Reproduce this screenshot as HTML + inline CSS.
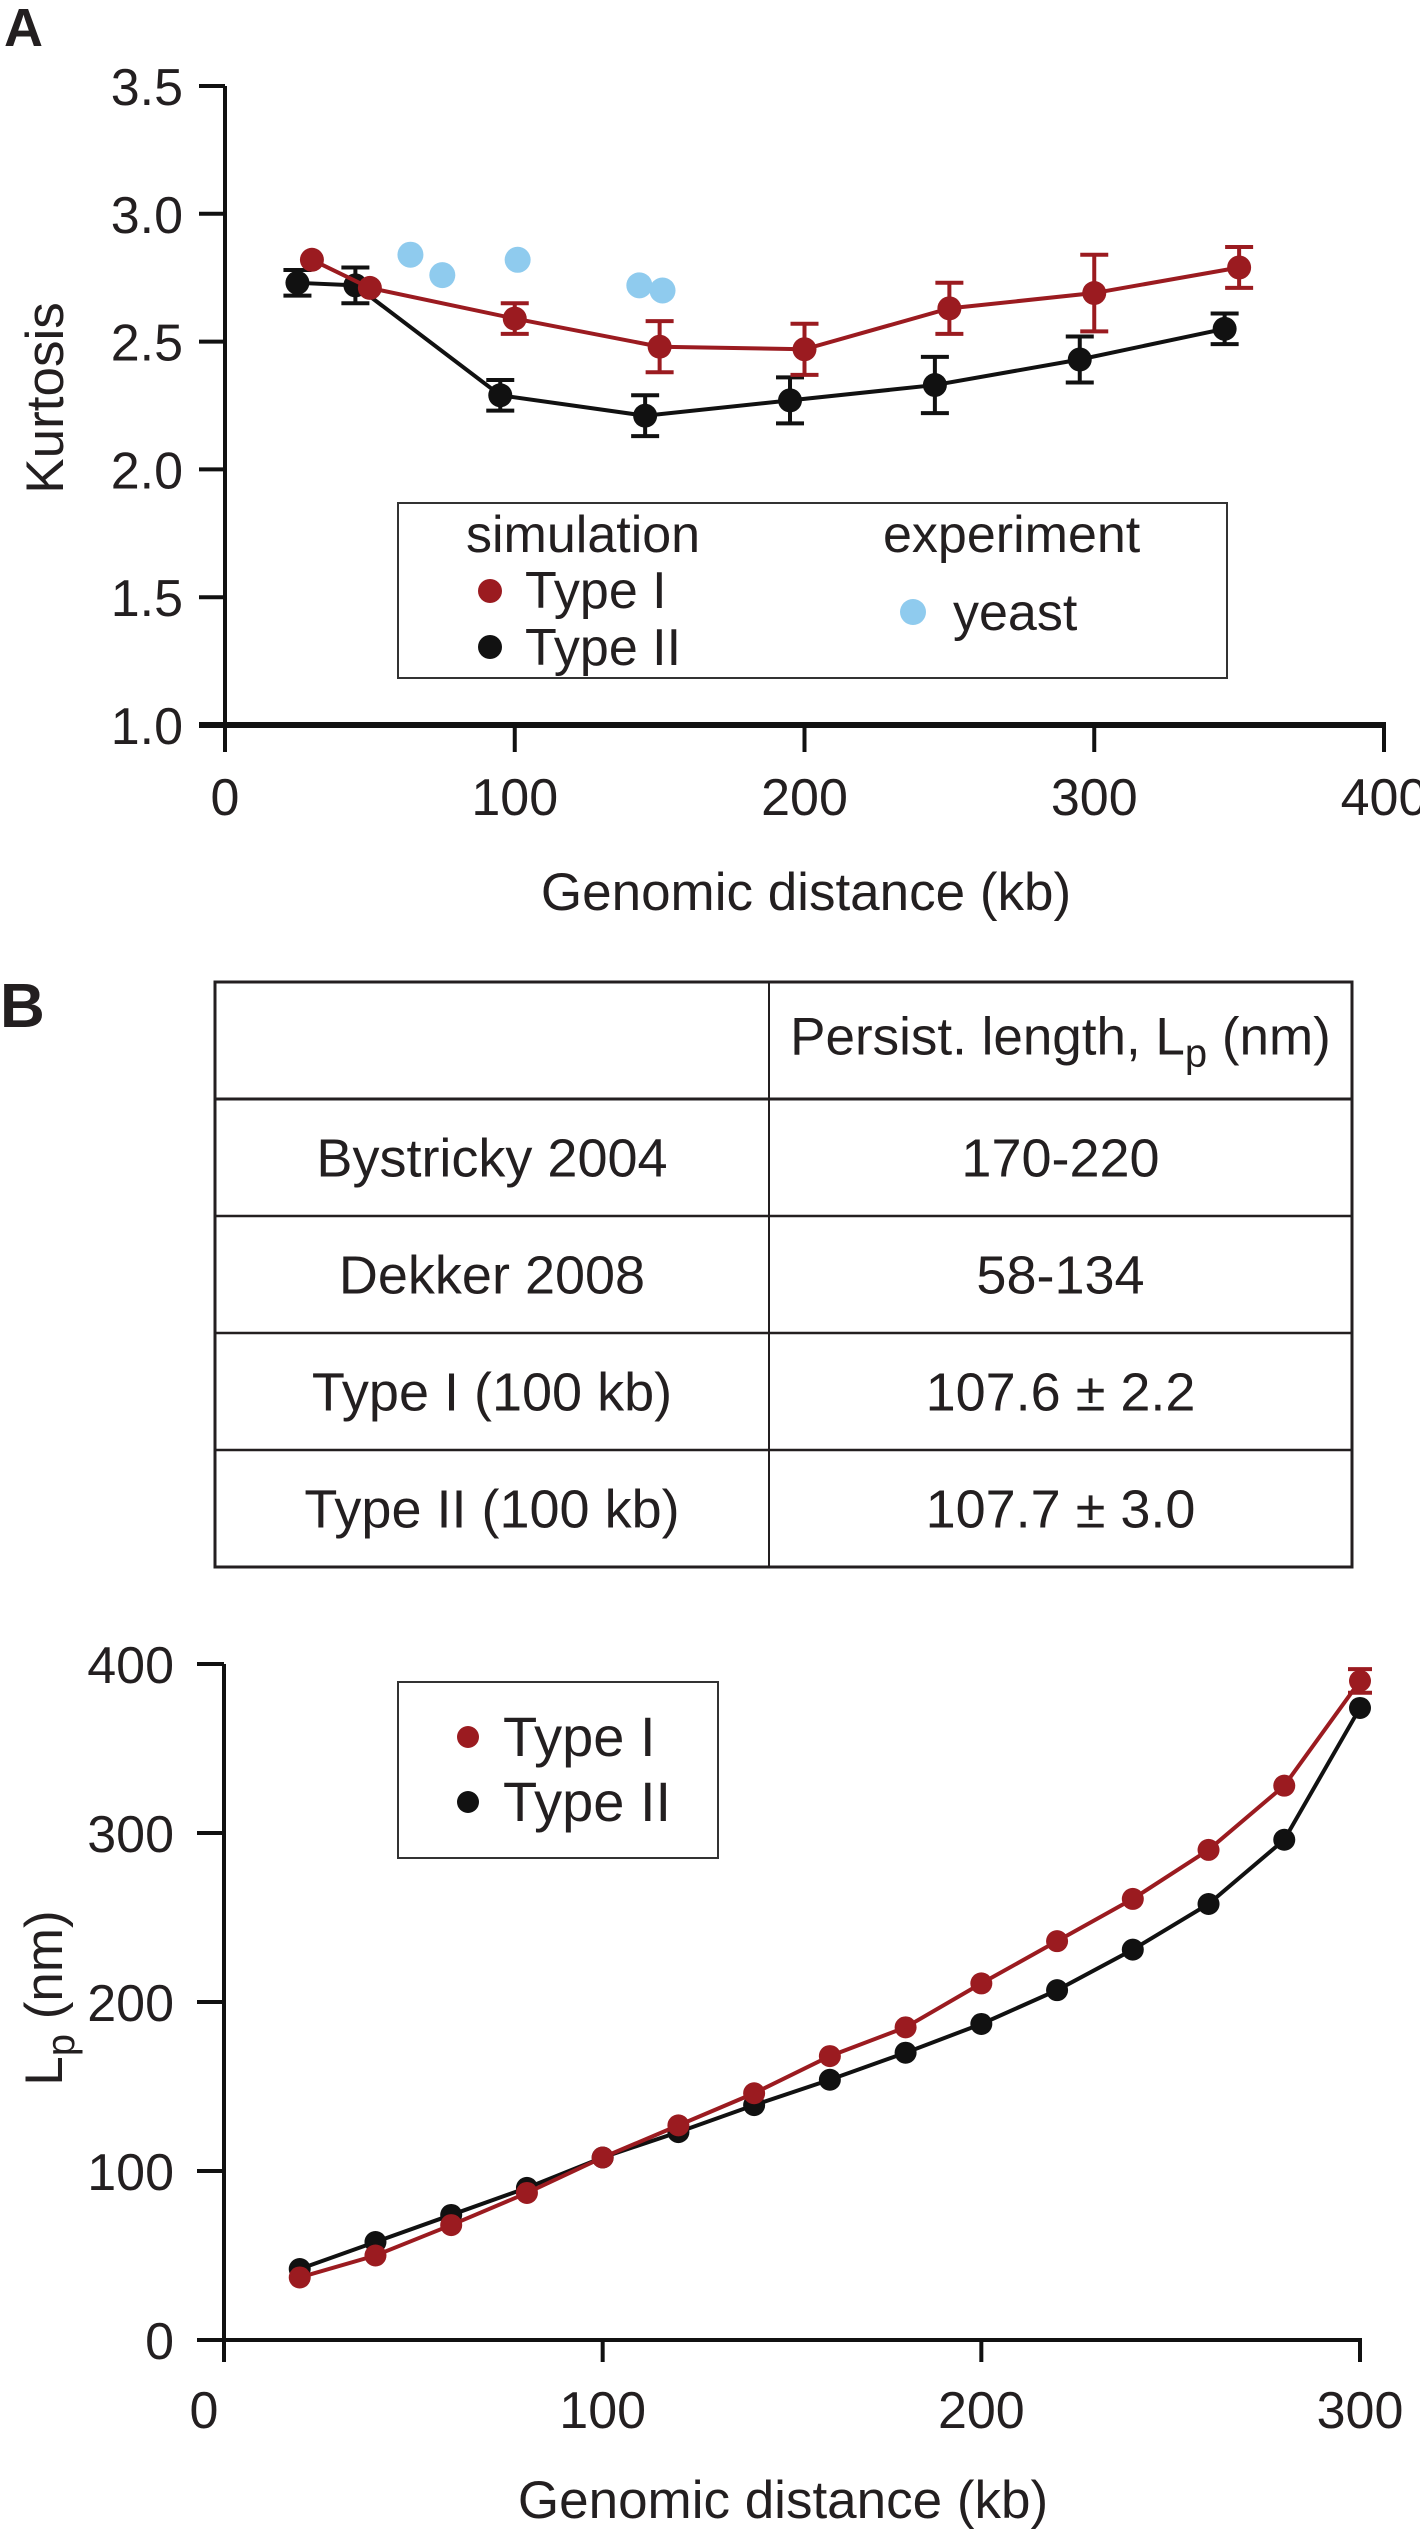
<!DOCTYPE html>
<html><head><meta charset="utf-8"><style>
html,body{margin:0;padding:0;background:#fff;}
svg{display:block;font-family:"Liberation Sans",Arial,sans-serif;}
</style></head><body>
<svg id="fig" width="1420" height="2530" viewBox="0 0 1420 2530" xmlns="http://www.w3.org/2000/svg">
<text x="4" y="46" font-size="54" font-weight="bold" fill="#231f20">A</text>
<g id="chartA"></g>
<text x="0" y="1027" font-size="62" font-weight="bold" fill="#231f20">B</text>
<g id="tbl"></g>
<g id="chartB"></g>
</svg>
<script>
// ---- Panel A data ----
const aXTicks = [0, 100, 200, 300, 400];
const aYTicks = [1.0, 1.5, 2.0, 2.5, 3.0, 3.5];
const aYTickLabels = ["1.0", "1.5", "2.0", "2.5", "3.0", "3.5"];
const type1X = [30, 50, 100, 150, 200, 250, 300, 350];
const type1Y = [2.82, 2.71, 2.59, 2.48, 2.47, 2.63, 2.69, 2.79];
const type1Err = [0, 0, 0.06, 0.10, 0.10, 0.10, 0.15, 0.08];
const type2X = [25, 45, 95, 145, 195, 245, 295, 345];
const type2Y = [2.73, 2.72, 2.29, 2.21, 2.27, 2.33, 2.43, 2.55];
const type2Err = [0.05, 0.07, 0.06, 0.08, 0.09, 0.11, 0.09, 0.06];
const yeastX = [64, 75, 101, 143, 151];
const yeastY = [2.84, 2.76, 2.82, 2.72, 2.70];
// ---- Panel B chart data ----
const bXTicks = [0, 100, 200, 300];
const bYTicks = [0, 100, 200, 300, 400];
const lpX = [20, 40, 60, 80, 100, 120, 140, 160, 180, 200, 220, 240, 260, 280, 300];
const lpType1 = [37, 50, 68, 87, 108, 127, 146, 168, 185, 211, 236, 261, 290, 328, 390];
const lpType1Err = [0, 0, 0, 0, 0, 0, 0, 0, 0, 0, 0, 0, 0, 0, 7];
const lpType2 = [42, 58, 74, 90, 108, 123, 139, 154, 170, 187, 207, 231, 258, 296, 374];
// ---- Table data ----
const tblRows = ["Bystricky 2004", "Dekker 2008", "Type I (100 kb)", "Type II (100 kb)"];
const tblVals = ["170-220", "58-134", "107.6 \u00b1 2.2", "107.7 \u00b1 3.0"];

const NS = "http://www.w3.org/2000/svg";
const RED = "#9b1b20", BLK = "#111111", BLUE = "#8fcbee";
function mk(parent, tag, attrs, txt) {
  const e = document.createElementNS(NS, tag);
  for (const k in attrs) e.setAttribute(k, attrs[k]);
  if (txt !== undefined) e.textContent = txt;
  parent.appendChild(e);
  return e;
}

// ===== Panel A =====
(function () {
  const g = document.getElementById("chartA");
  const xS = v => 225 + (v - 0) * (1384 - 225) / 400;
  const yS = v => 725 - (v - 1.0) * (725 - 86) / 2.5;
  let e = mk(g, "line", {x1: 225, y1: 86, x2: 225, y2: 752, stroke: "#111", "stroke-width": 4});
  
  
  e = mk(g, "line", {x1: 199, y1: 725, x2: 1386, y2: 725, stroke: "#111", "stroke-width": 6});
  
  
  aYTicks.forEach((v, i) => {
    const t = mk(g, "line", {x1: 199, y1: yS(v), x2: 225, y2: yS(v), stroke: "#111", "stroke-width": 4});
    
    
    const l = mk(g, "text", {x: 183, y: yS(v) + 19, "font-size": 52, "text-anchor": "end", fill: "#231f20"}, aYTickLabels[i]);
    
    
  });
  aXTicks.forEach(v => {
    const t = mk(g, "line", {x1: xS(v), y1: 725, x2: xS(v), y2: 752, stroke: "#111", "stroke-width": 4});
    
    
    const l = mk(g, "text", {x: xS(v), y: 815, "font-size": 52, "text-anchor": "middle", fill: "#231f20"}, String(v));
    
    
  });
  e = mk(g, "text", {x: 806, y: 910, "font-size": 53, "text-anchor": "middle", fill: "#231f20"}, "Genomic distance (kb)");
  
  
  e = mk(g, "text", {x: 0, y: 0, "font-size": 53, "text-anchor": "middle", fill: "#231f20", transform: "translate(63,398) rotate(-90)"}, "Kurtosis");
  
  

  function series(xs, ys, errs, col, name) {
    const sg = mk(g, "g", {});
    
    
    const pts = xs.map((x, i) => xS(x) + "," + yS(ys[i])).join(" ");
    mk(sg, "polyline", {points: pts, fill: "none", stroke: col, "stroke-width": 4});
    xs.forEach((x, i) => {
      if (errs[i] > 0) {
        const cx = xS(x), y1 = yS(ys[i] + errs[i]), y2 = yS(ys[i] - errs[i]);
        const eb = mk(sg, "path", {d: `M${cx},${y1}V${y2}M${cx - 14},${y1}H${cx + 14}M${cx - 14},${y2}H${cx + 14}`, stroke: col, "stroke-width": 4, fill: "none"});
        
        
      }
      const c = mk(sg, "ellipse", {cx: xS(x), cy: yS(ys[i]), rx: 12, ry: 12, fill: col});
      
      
    });
  }
  series(type2X, type2Y, type2Err, BLK, "type-ii-series");
  series(type1X, type1Y, type1Err, RED, "type-i-series");
  yeastX.forEach((x, i) => {
    const c = mk(g, "ellipse", {cx: xS(x), cy: yS(yeastY[i]), rx: 13, ry: 13, fill: BLUE});
    
    
  });

  const lg = mk(g, "g", {});
  
  
  mk(lg, "rect", {x: 398, y: 503, width: 829, height: 175, fill: "#fff", stroke: "#333", "stroke-width": 2});
  mk(lg, "text", {x: 466, y: 552, "font-size": 52, fill: "#231f20"}, "simulation");
  mk(lg, "text", {x: 883, y: 552, "font-size": 52, fill: "#231f20"}, "experiment");
  let le = mk(lg, "circle", {cx: 490, cy: 591, r: 12, fill: RED});
  
  
  mk(lg, "text", {x: 525, y: 608, "font-size": 52, fill: "#231f20"}, "Type I");
  le = mk(lg, "circle", {cx: 490, cy: 647, r: 12, fill: BLK});
  
  
  mk(lg, "text", {x: 525, y: 665, "font-size": 52, fill: "#231f20"}, "Type II");
  le = mk(lg, "circle", {cx: 913, cy: 612, r: 13, fill: BLUE});
  
  
  mk(lg, "text", {x: 953, y: 630, "font-size": 52, fill: "#231f20"}, "yeast");
})();

// ===== Table =====
(function () {
  const g = document.getElementById("tbl");
  const L = 215, M = 769, R = 1352, T = 982, RH = 117;
  const nRows = tblRows.length + 1;
  mk(g, "rect", {x: L, y: T, width: R - L, height: RH * nRows, fill: "none", stroke: "#231f20", "stroke-width": 3});
  mk(g, "line", {x1: M, y1: T, x2: M, y2: T + RH * nRows, stroke: "#231f20", "stroke-width": 2});
  for (let i = 1; i < nRows; i++) {
    mk(g, "line", {x1: L, y1: T + RH * i, x2: R, y2: T + RH * i, stroke: "#231f20", "stroke-width": i === 1 ? 3 : 2.5});
  }
  const h = mk(g, "text", {x: (M + R) / 2, y: T + RH / 2 + 14, "font-size": 53, "text-anchor": "middle", fill: "#231f20"});
  
  
  mk(h, "tspan", {}, "Persist. length, L");
  mk(h, "tspan", {"font-size": 40, dy: 12}, "p");
  mk(h, "tspan", {dy: -12}, " (nm)");
  tblRows.forEach((r, i) => {
    const cy = T + RH * (i + 1) + RH / 2 + 19;
    const a = mk(g, "text", {x: (L + M) / 2, y: cy, "font-size": 54, "text-anchor": "middle", fill: "#231f20"}, r);
    
    
    const b = mk(g, "text", {x: (M + R) / 2, y: cy, "font-size": 54, "text-anchor": "middle", fill: "#231f20"}, tblVals[i]);
    
    
  });
})();

// ===== Panel B chart =====
(function () {
  const g = document.getElementById("chartB");
  const xS = v => 224 + v * (1360 - 224) / 300;
  const yS = v => 2340 - v * (2340 - 1664) / 400;
  let e = mk(g, "line", {x1: 224, y1: 1664, x2: 224, y2: 2362, stroke: "#111", "stroke-width": 4});
  
  
  e = mk(g, "line", {x1: 197, y1: 2340, x2: 1362, y2: 2340, stroke: "#111", "stroke-width": 4});
  
  
  bYTicks.forEach(v => {
    const t = mk(g, "line", {x1: 197, y1: yS(v), x2: 224, y2: yS(v), stroke: "#111", "stroke-width": 4});
    
    
    const l = mk(g, "text", {x: 174, y: yS(v) + 19, "font-size": 52, "text-anchor": "end", fill: "#231f20"}, String(v));
    
    
  });
  bXTicks.forEach((v, i) => {
    const t = mk(g, "line", {x1: xS(v), y1: 2340, x2: xS(v), y2: 2362, stroke: "#111", "stroke-width": 4});
    
    
    const l = mk(g, "text", {x: xS(v) - (i === 0 ? 20 : 0), y: 2428, "font-size": 52, "text-anchor": "middle", fill: "#231f20"}, String(v));
    
    
  });
  e = mk(g, "text", {x: 783, y: 2518, "font-size": 53, "text-anchor": "middle", fill: "#231f20"}, "Genomic distance (kb)");
  
  
  e = mk(g, "text", {x: 0, y: 0, "font-size": 53, "text-anchor": "middle", fill: "#231f20", transform: "translate(62,1998) rotate(-90)"});
  
  
  mk(e, "tspan", {}, "L");
  mk(e, "tspan", {"font-size": 40, dy: 12}, "p");
  mk(e, "tspan", {dy: -12}, " (nm)");

  function series(ys, errs, col, name) {
    const sg = mk(g, "g", {});
    
    
    mk(sg, "polyline", {points: lpX.map((x, i) => xS(x) + "," + yS(ys[i])).join(" "), fill: "none", stroke: col, "stroke-width": 4});
    lpX.forEach((x, i) => {
      if (errs && errs[i] > 0) {
        const cx = xS(x), y1 = yS(ys[i] + errs[i]), y2 = yS(ys[i] - errs[i]);
        const eb = mk(sg, "path", {d: `M${cx},${y1}V${y2}M${cx - 12},${y1}H${cx + 12}M${cx - 12},${y2}H${cx + 12}`, stroke: col, "stroke-width": 4, fill: "none"});
        
        
      }
      const c = mk(sg, "circle", {cx: xS(x), cy: yS(ys[i]), r: 11, fill: col});
      
      
    });
  }
  series(lpType2, null, BLK, "type-ii-series");
  series(lpType1, lpType1Err, RED, "type-i-series");

  const lg = mk(g, "g", {});
  
  
  mk(lg, "rect", {x: 398, y: 1682, width: 320, height: 176, fill: "#fff", stroke: "#333", "stroke-width": 2});
  let le = mk(lg, "circle", {cx: 468, cy: 1737, r: 11, fill: RED});
  
  
  mk(lg, "text", {x: 503, y: 1756, "font-size": 56, fill: "#231f20"}, "Type I");
  le = mk(lg, "circle", {cx: 468, cy: 1802, r: 11, fill: BLK});
  
  
  mk(lg, "text", {x: 503, y: 1821, "font-size": 56, fill: "#231f20"}, "Type II");
})();
</script>
</body></html>
